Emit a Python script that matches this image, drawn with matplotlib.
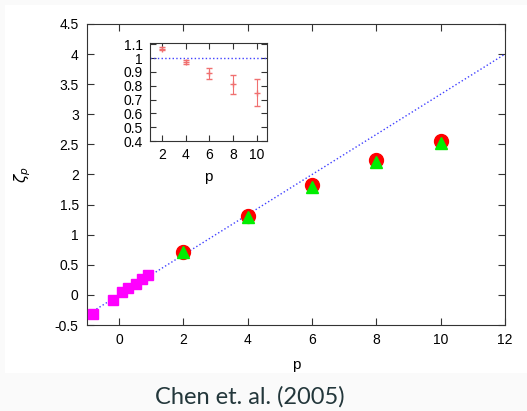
import matplotlib.pyplot as plt
import numpy as np
from matplotlib.patches import Rectangle

plt.rcParams['font.family'] = ['Liberation Sans', 'DejaVu Sans']
plt.rcParams['mathtext.fontset'] = 'dejavusans'

# small-p exponents (magenta squares)
p_small = [-0.81, -0.2, 0.08, 0.29, 0.51, 0.71, 0.91]
zeta_small = [-0.32, -0.085, 0.04, 0.11, 0.18, 0.26, 0.33]

# large-p exponents, two data sets
p_big = [2, 4, 6, 8, 10]
zeta_circ = [0.72, 1.31, 1.82, 2.24, 2.56]
zeta_tri = [0.71, 1.29, 1.80, 2.21, 2.52]

# inset: ratio with error bars
ratio = [1.07, 0.97, 0.89, 0.81, 0.75]
ratio_err = [0.01, 0.015, 0.04, 0.07, 0.10]

fig = plt.figure(figsize=(5.27, 4.11), dpi=100)
fig.patch.set_facecolor('#fafafa')
fig.add_artist(Rectangle((5 / 527, 1 - 373 / 411), 522 / 527, 368 / 411,
                         transform=fig.transFigure, facecolor='white',
                         edgecolor='none', zorder=0))

ax = fig.add_axes([87 / 527, 1 - 325 / 411, 418 / 527, 301 / 411])
k41 = np.array([-1, 12])
ax.plot(k41, k41 / 3, linestyle=':', color='#4040ff', lw=1)
ax.plot(p_small, zeta_small, 's', color='magenta', ms=7, zorder=3)
ax.plot(p_big, zeta_circ, 'o', color='red', ms=10, zorder=3)
ax.plot(p_big, zeta_tri, '^', color='#00ee00', ms=9, zorder=4)
ax.set_xlim(-1, 12)
ax.set_ylim(-0.5, 4.5)
ax.set_xticks(range(0, 13, 2))
ax.set_yticks(np.arange(-0.5, 4.51, 0.5))
ax.set_yticklabels(['-0.5', '0', '0.5', '1', '1.5', '2', '2.5', '3', '3.5', '4', '4.5'])
ax.tick_params(direction='in', top=True, right=True, length=5, labelsize=10,
               pad=6, color='#333333')
ax.set_xlabel('p', fontsize=11, labelpad=8)
ax.set_ylabel(r'$\zeta_p$', fontsize=11, labelpad=16)
for s in ax.spines.values():
    s.set_color('#333333')

ins = fig.add_axes([150 / 527, 1 - 141 / 411, 117 / 527, 98 / 411])
ins.axhline(1, linestyle=':', color='#4040ff', lw=1)
ins.errorbar(p_big, ratio, yerr=ratio_err, fmt='+', color='#f07070',
             ms=4, lw=0.8, capsize=2, elinewidth=0.8)
ins.set_xlim(1, 10.85)
ins.set_ylim(0.4, 1.11)
ins.set_xticks(range(2, 11, 2))
ins.set_yticks(np.arange(0.4, 1.11, 0.1))
ins.set_yticklabels(['0.4', '0.5', '0.6', '0.7', '0.8', '0.9', '1', '1.1'])
ins.tick_params(direction='in', top=True, right=True, length=4, labelsize=10,
                pad=5, color='#333333')
ins.set_xlabel('p', fontsize=11, labelpad=6)
for s in ins.spines.values():
    s.set_color('#333333')

fig.text(250 / 527, 1 - 397 / 411, 'Chen et. al. (2005)', ha='center',
         va='center', fontsize=17, color='#23373b', family=['Lato', 'DejaVu Sans'])

fig.savefig('out.png', dpi=100)
